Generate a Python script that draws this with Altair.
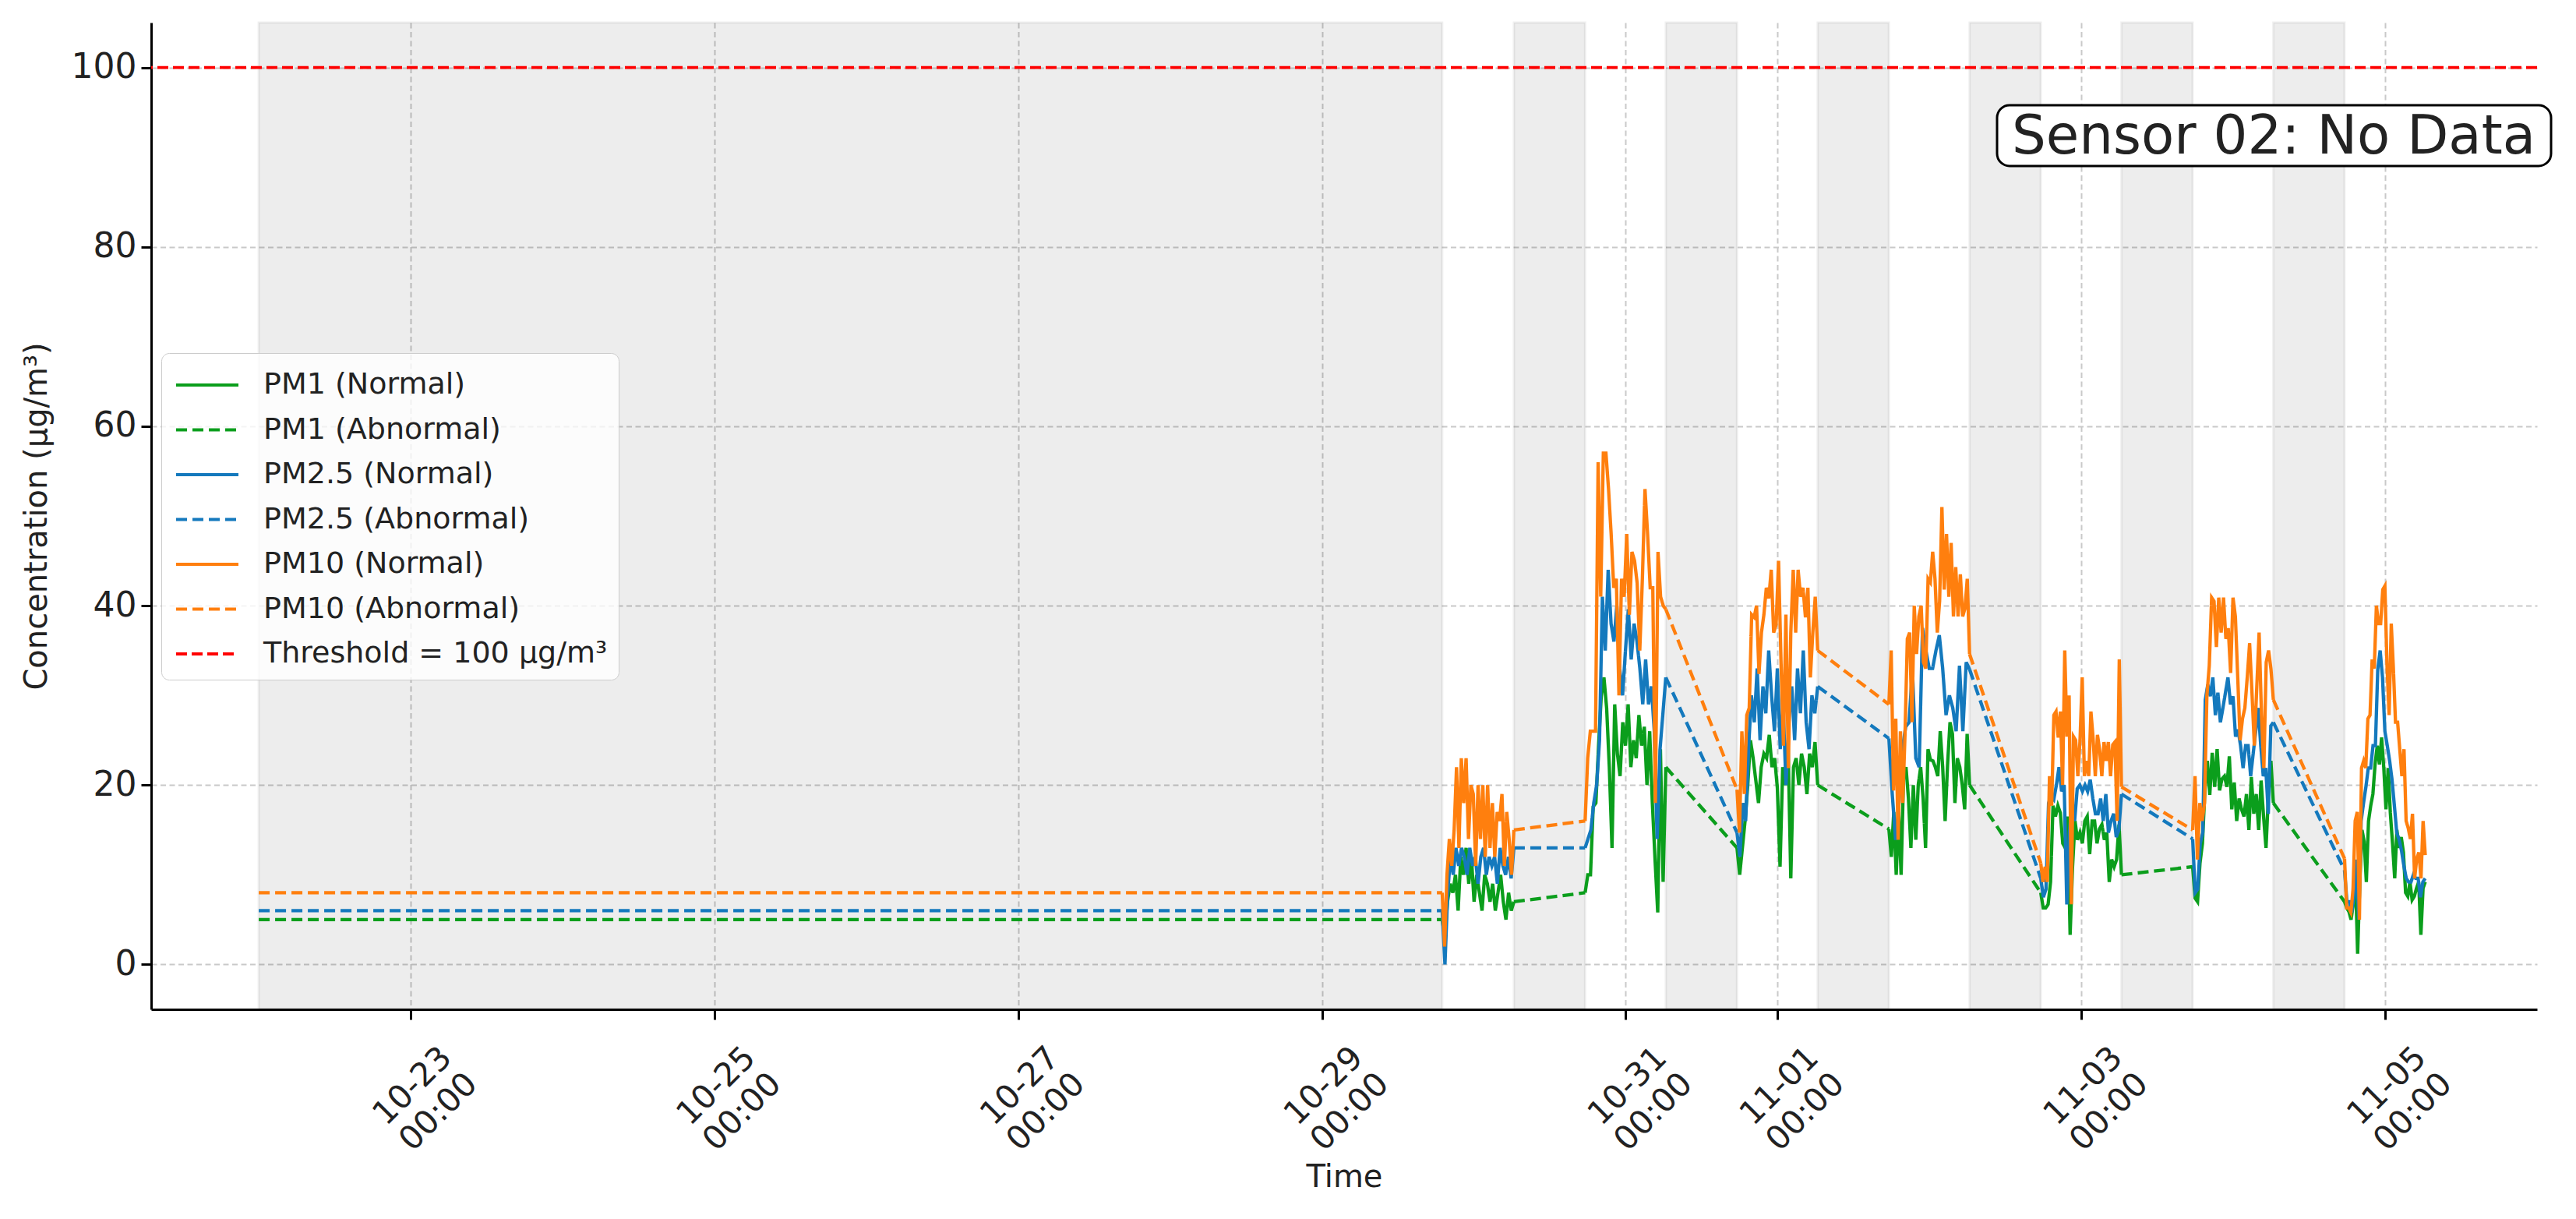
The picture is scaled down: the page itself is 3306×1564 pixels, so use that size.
import altair as alt
import pandas as pd

FONT = "DejaVu Sans"

# ---------------- data ----------------
POLLUTANTS = ["PM1", "PM2.5", "PM10"]
SERIES = ["PM1 (Normal)", "PM1 (Abnormal)", "PM2.5 (Normal)", "PM2.5 (Abnormal)",
          "PM10 (Normal)", "PM10 (Abnormal)", "Threshold = 100 μg/m³"]
THRESHOLD = 100
SENSOR_LABEL = "Sensor 02: No Data"

# shaded (abnormal / no-data) periods
GRAY_STARTS = ["2024-10-22 00:00", "2024-10-30 06:20", "2024-10-31 06:20", "2024-11-01 06:20",
               "2024-11-02 06:20", "2024-11-03 06:20", "2024-11-04 06:20"]
GRAY_ENDS = ["2024-10-29 19:00", "2024-10-30 17:35", "2024-10-31 17:35", "2024-11-01 17:35",
             "2024-11-02 17:35", "2024-11-03 17:35", "2024-11-04 17:35"]

# normal measurement periods
SEG_STARTS = ["2024-10-29 19:00", "2024-10-30 17:35", "2024-10-31 17:35", "2024-11-01 17:35",
              "2024-11-02 17:35", "2024-11-03 17:35", "2024-11-04 17:35"]
SEG_ENDS = ["2024-10-30 06:20", "2024-10-31 06:20", "2024-11-01 06:20", "2024-11-02 06:20",
            "2024-11-03 06:20", "2024-11-04 06:20", "2024-11-05 06:20"]

# flat abnormal values before the first measurement
ABN0_START = "2024-10-22 00:00"
ABN0_END = "2024-10-29 19:00"
INITIAL_ABNORMAL = {"PM1": 5, "PM2.5": 6, "PM10": 8}

PM1_NORMAL = [
    [5, 3, 7, 9, 8, 10, 6, 12, 10, 13, 9, 12, 7, 10, 8, 6, 10, 9, 7, 9, 6, 8, 10, 7, 5, 8, 6, 7],
    [8, 10, 10, 17.6, 18, 24.4, 29.9, 32, 28.6, 22, 13, 29, 23.5, 21, 27, 24.4, 29, 22, 25, 23,
     27.8, 24.4, 26.5, 20, 26, 18, 11.7, 5.8, 24, 9.2, 22],
    [13, 10, 13, 16, 20, 25, 23, 20.5, 18, 22, 23.5, 23, 25.6, 22, 23, 19.7, 10.9, 22, 20, 24.4,
     9.6, 22, 23, 20, 23.5, 22, 19, 23.5, 22, 24.8, 20],
    [15.1, 12, 17, 10, 17, 10, 21, 22, 18.5, 13, 20, 13.9, 20, 22, 18.5, 13, 24, 22.8, 22.7, 22,
     21, 26, 22, 16, 22.3, 27, 25.7, 18, 23, 22, 20, 17.3, 25.7, 20],
    [8, 6.3, 6.3, 6.7, 9.2, 17.7, 16.5, 17.7, 16.9, 13.5, 13, 16.5, 3.3, 10.9, 16, 13.9, 14.7,
     13.5, 16, 16.5, 12.3, 16, 16, 13.5, 15.1, 15.6, 13.9, 14.7, 9.2, 11.7, 10.9, 11.7, 15.6, 10],
    [10.9, 7.4, 7, 11.3, 13.5, 19.4, 22.7, 18.9, 23.6, 19.8, 24, 19.4, 20.7, 21, 19.8, 23.2, 17.3,
     20.3, 16, 18.5, 17.3, 16.5, 19, 15, 20.9, 16.8, 19, 15, 20.5, 16.5, 13, 19, 22.7, 18],
    [7, 6.3, 5.9, 5, 6.8, 10, 1.2, 9.2, 15, 13.7, 9.2, 16, 17.7, 19, 22.3, 24.4, 22.3, 25.3, 21.9,
     17.3, 21.9, 16.9, 13.5, 9.6, 15, 13, 14.2, 12.5, 8, 7.6, 9.2, 7.2, 7.6, 8.5, 9.2, 3.3, 8.5, 9.2],
]

PM25_NORMAL = [
    [6, 0, 8, 12, 10, 13, 11, 13, 12, 10, 13, 11, 12, 9, 12, 13, 10, 12, 11, 12, 9, 13, 11, 10,
     12, 9.6, 13],
    [13, 14, 15, 18, 20, 25, 41, 35, 44, 38, 36, 40, 33, 30, 35, 39.6, 34, 38, 36, 33, 29, 34, 29,
     31, 26, 14, 24, 28, 32],
    [14.7, 12, 18, 16, 24, 30, 27, 33, 25, 31, 28, 35, 30, 26, 33, 24, 29, 20, 27, 31, 25, 33, 28,
     35, 27, 24, 30, 28, 31],
    [25.2, 19, 13.9, 18, 24, 26.5, 27, 32.9, 23, 22, 37.5, 35, 33, 33, 35, 36.7, 33, 27.8, 30,
     28.6, 26, 33.3, 26, 33.7, 32.9],
    [9.6, 7.5, 8.4, 18, 18.8, 18.4, 20, 22, 19.3, 20, 6.7, 14.7, 18, 16, 19.6, 20, 19.3, 20, 19.3,
     20.6, 18.5, 16.8, 16.8, 18.5, 16, 19, 14.7, 16, 16.8, 14.2, 15, 19],
    [14, 8, 8.4, 13.5, 14.7, 29.5, 31.2, 29.9, 32, 27.8, 30.3, 27, 28.6, 30.3, 32, 29, 29.9, 25.4,
     26.2, 24.4, 21.9, 24.4, 24.4, 21, 23.5, 26, 28.6, 24.4, 21, 21.9, 16.8, 26.6, 27],
    [10.5, 7, 7, 5.8, 7.5, 11.7, 5, 16, 18, 19.8, 21.9, 21.9, 24.4, 24.4, 32.9, 35, 32, 26, 24.4,
     22.7, 20.6, 17.7, 14.7, 13.9, 12.7, 11, 9.6, 9.2, 9.2, 10, 9.6, 9.6, 7.5, 9.2, 9.6],
]

PM10_NORMAL = [
    [8, 2, 10, 14, 11, 15, 22, 13, 23, 18, 23, 14, 20, 19, 11, 20, 14, 20, 12, 20, 13, 18, 12, 17,
     16, 19, 11, 17, 14, 10, 15],
    [16, 23, 26, 26, 26, 56, 41, 57, 57, 53, 48, 42, 43, 30, 43, 41, 48, 39, 46, 45, 42.5, 35, 43,
     53, 48, 42, 42, 18, 46, 41, 40, 39.6],
    [19.5, 14.7, 26, 19, 27.8, 28.6, 39, 38.7, 40, 32.4, 37, 39, 42, 40.8, 44, 37, 37.9, 45, 33.7,
     24.4, 39, 21.9, 37, 44, 37, 44, 41, 42, 38.7, 42, 32, 37, 41, 35],
    [29, 35, 19.4, 27.4, 13.9, 26, 18, 25.7, 36.3, 37, 27, 40, 34.6, 38.8, 40, 33.7, 33, 43, 42.6,
     46, 43, 37, 40.5, 51, 41.8, 48, 41, 47, 38.8, 44.3, 38.8, 43.5, 38.8, 39.7, 43, 34.6],
    [11.3, 9.2, 10.9, 9.2, 21, 17.7, 27.8, 28.2, 25.3, 28.2, 20, 35, 25.4, 30, 6.7, 25.4, 25, 21,
     25, 32, 21, 22.7, 21, 28.2, 25.2, 21, 25.6, 23.9, 21, 24.8, 22.7, 24.8, 21, 24.5, 24.8, 16,
     34, 19.8],
    [15, 21, 11.7, 18, 16, 18, 30, 33.3, 40.9, 40.5, 35.4, 40.9, 37, 40.9, 36.3, 37.5, 32.5, 40.9,
     38.8, 32, 25, 27.4, 28.6, 32, 35.8, 30.3, 24.4, 30.8, 37, 27.8, 21.9, 33.7, 35, 32.9, 29.5],
    [11.8, 6.3, 6.3, 5.8, 8.4, 16, 17, 5, 21.9, 22.7, 21.9, 27.4, 27.8, 34, 33, 40, 38, 38, 41.8,
     42.2, 33.3, 27.8, 38, 33, 27, 27, 24, 21, 24, 16, 15.2, 14, 16.8, 9.6, 11.8, 12.5, 9.6, 16,
     12.2],
]

X_TICKS = [(10, 23), (10, 25), (10, 27), (10, 29), (10, 31), (11, 1), (11, 3), (11, 5)]
Y_TICKS = [0, 20, 40, 60, 80, 100]

# ---------------- styles ----------------
COLORS = ["#0b9e1c", "#0b9e1c", "#1479bd", "#1479bd", "#ff7f0e", "#ff7f0e", "#ff0000"]
DASHES = [[1, 0], [14, 7], [1, 0], [14, 7], [1, 0], [14, 7], [14, 6]]
W, H = 3062, 1266

# ---------------- build tables ----------------
normal = {"PM1": PM1_NORMAL, "PM2.5": PM25_NORMAL, "PM10": PM10_NORMAL}
rows = []
for p in POLLUTANTS:
    segs = normal[p]
    for t in (ABN0_START, ABN0_END):
        rows.append(dict(time=pd.Timestamp(t), value=INITIAL_ABNORMAL[p],
                         series=f"{p} (Abnormal)", grp=f"{p}-a0", pol=p))
    for k, vals in enumerate(segs):
        times = pd.date_range(SEG_STARTS[k], SEG_ENDS[k], periods=len(vals))
        for t, v in zip(times, vals):
            rows.append(dict(time=t, value=v, series=f"{p} (Normal)", grp=f"{p}-n{k}", pol=p))
        if k + 1 < len(segs):
            rows.append(dict(time=pd.Timestamp(SEG_ENDS[k]), value=vals[-1],
                             series=f"{p} (Abnormal)", grp=f"{p}-a{k+1}", pol=p))
            rows.append(dict(time=pd.Timestamp(SEG_STARTS[k + 1]), value=segs[k + 1][0],
                             series=f"{p} (Abnormal)", grp=f"{p}-a{k+1}", pol=p))
lines_df = pd.DataFrame(rows)

gray_df = pd.DataFrame({"start": pd.to_datetime(GRAY_STARTS), "end": pd.to_datetime(GRAY_ENDS)})
thr_df = pd.DataFrame({"value": [THRESHOLD], "series": [SERIES[-1]]})
box_df = pd.DataFrame({"label": [SENSOR_LABEL]})

# ---------------- shared encodings ----------------
x_scale = alt.Scale(domain=[alt.DateTime(year=2024, month=10, date=21, hours=7),
                            alt.DateTime(year=2024, month=11, date=6, hours=0)])
y_scale = alt.Scale(domain=[-5, 105], nice=False, zero=False)

x_axis = alt.Axis(
    title="Time",
    values=[alt.DateTime(year=2024, month=m, date=d) for m, d in X_TICKS],
    labelExpr="[timeFormat(datum.value, '%m-%d'), timeFormat(datum.value, '%H:%M')]",
    labelAngle=-45, labelAlign="center", labelBaseline="middle",
    labelPadding=85, labelLineHeight=47, labelFontSize=42, labelOffset=2, titlePadding=6,
)
y_axis = alt.Axis(title="Concentration (μg/m³)", values=Y_TICKS, labelPadding=6, titlePadding=24,
                  labelFontSize=44)

legend = alt.Legend(
    title=None, orient="none", legendX=13, legendY=424,
    symbolType="M-1.6,0H1.6", symbolSize=2500, symbolStrokeWidth=4,
    symbolOffset=18, labelOffset=45, labelFontSize=38, labelFont=FONT, labelColor="#222222",
    fillColor="rgba(255,255,255,0.8)", strokeColor="#cccccc", cornerRadius=10,
    padding=14, rowPadding=11.5, labelLimit=0,
)
color = alt.Color("series:N", scale=alt.Scale(domain=SERIES, range=COLORS), legend=legend)
dash = alt.StrokeDash("series:N", scale=alt.Scale(domain=SERIES, range=DASHES), legend=legend)

# ---------------- layers ----------------
gray = alt.Chart(gray_df).mark_rect(
    fill="black", fillOpacity=0.072, stroke="black", strokeOpacity=0.06, strokeWidth=3
).encode(
    x=alt.X("start:T", scale=x_scale, axis=x_axis),
    x2="end:T",
    y=alt.YDatum(105, scale=y_scale, axis=y_axis),
    y2=alt.Y2Datum(-5),
)

pollutant_layers = []
for p in POLLUTANTS:
    pollutant_layers.append(
        alt.Chart(lines_df).transform_filter(alt.datum.pol == p).mark_line(strokeWidth=4.3).encode(
            x=alt.X("time:T", scale=x_scale, axis=x_axis),
            y=alt.Y("value:Q", scale=y_scale, axis=y_axis),
            color=color,
            strokeDash=dash,
            detail="grp:N",
            order="time:T",
        )
    )

threshold = alt.Chart(thr_df).mark_rule(strokeWidth=3.8).encode(
    y=alt.Y("value:Q", scale=y_scale, axis=y_axis),
    color=color,
    strokeDash=dash,
)

box = alt.Chart(box_df).mark_rect(
    fill="white", stroke="black", strokeWidth=3, cornerRadius=16
).encode(x=alt.value(2369), x2=alt.value(3080), y=alt.value(106), y2=alt.value(184))

box_text = alt.Chart(box_df).mark_text(
    font=FONT, fontSize=69, color="#222222", align="center", baseline="middle"
).encode(x=alt.value(2724), y=alt.value(147), text="label:N")

chart = alt.layer(gray, *pollutant_layers, threshold, box, box_text).properties(
    width=W, height=H,
    autosize=alt.AutoSizeParams(type="none"),
    padding={"left": 186, "top": 21, "right": 40, "bottom": 261},
    background="white",
).configure(font=FONT).configure_view(stroke=None).configure_axis(
    domainColor="black", domainWidth=3, tickColor="black", tickWidth=3, tickSize=13,
    labelFont=FONT, labelColor="#222222",
    titleFont=FONT, titleFontSize=40, titleFontWeight="normal", titleColor="#222222",
    grid=True, gridColor="#c9c9c9", gridDash=[7, 4.5], gridWidth=2,
)

chart.save("out.html", embed_options={"renderer": "svg", "actions": False})
